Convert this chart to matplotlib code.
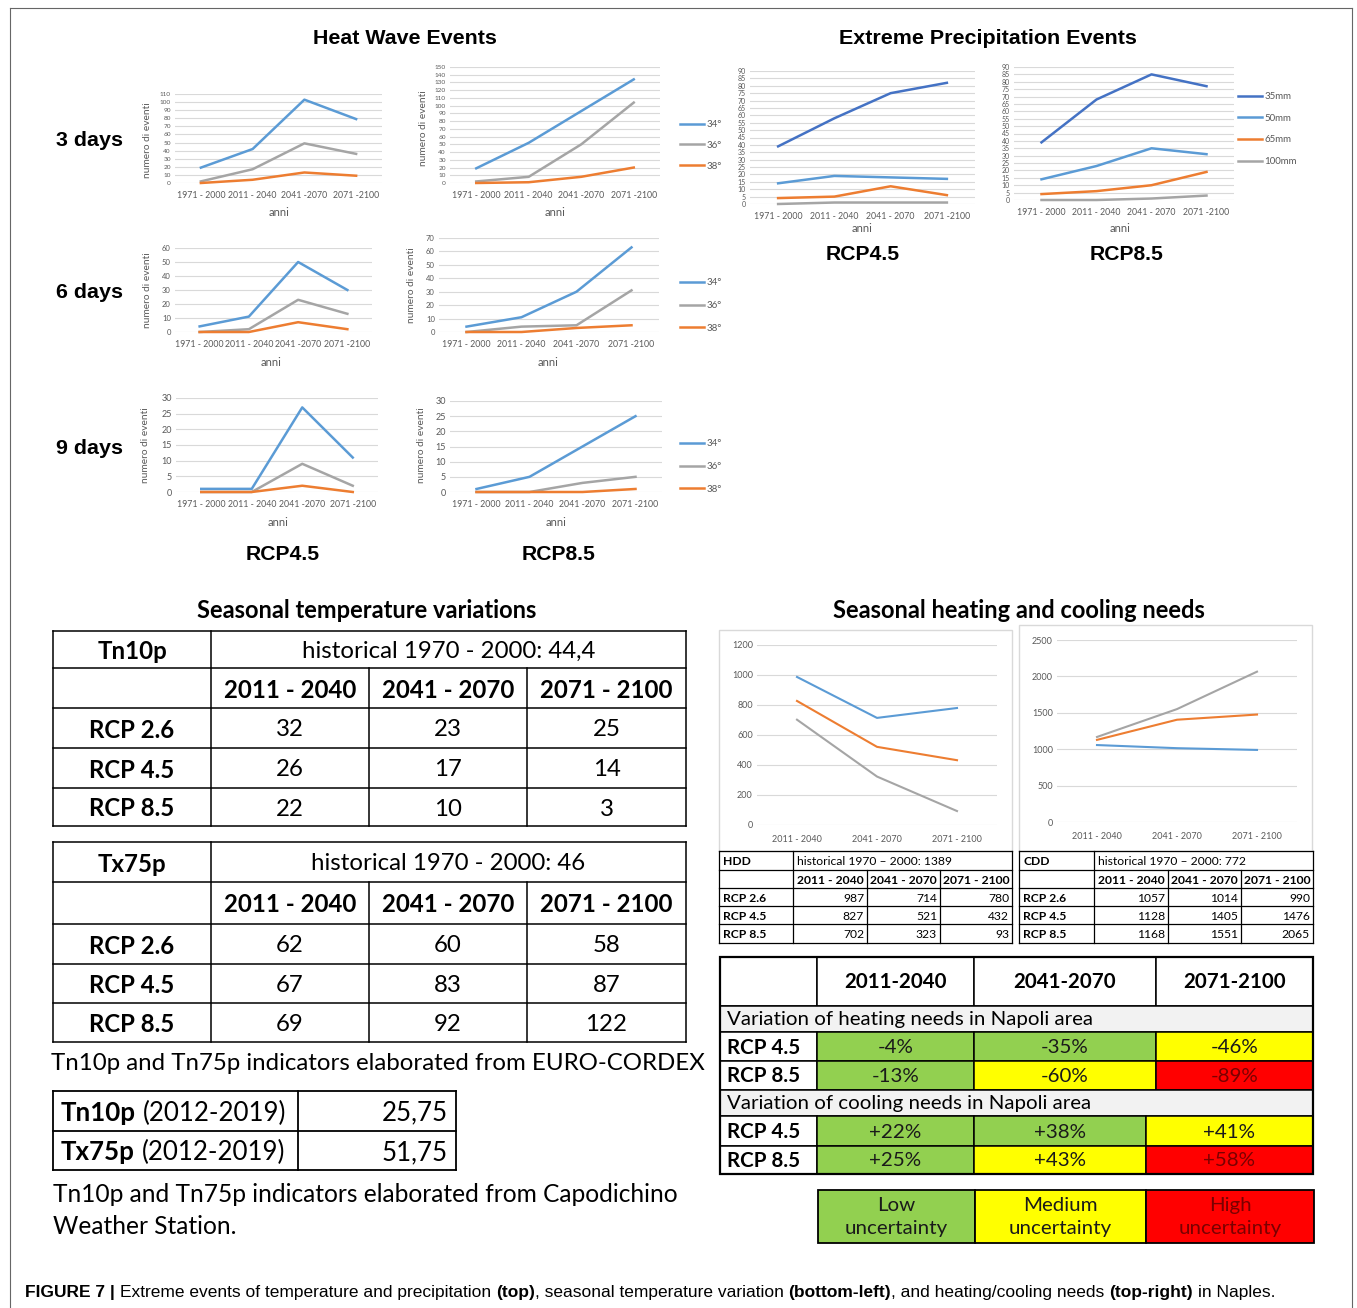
import numpy as np
import matplotlib
matplotlib.use('Agg')
import matplotlib.pyplot as plt
from matplotlib.patches import Rectangle

# ---------------- data ----------------
hw_periods = ['1971 - 2000', '2011 - 2040', '2041 -2070', '2071 -2100']
hw_labels = ['34°', '36°', '38°']
hw3_rcp45 = [[19, 42, 103, 79], [2, 17, 49, 36], [0, 4, 13, 9]]
hw3_rcp85 = [[19, 52, 93, 134], [2, 8, 50, 104], [0, 1, 8, 20]]
hw6_rcp45 = [[4, 11, 50, 30], [0, 2, 23, 13], [0, 0, 7, 2]]
hw6_rcp85 = [[4, 11, 30, 63], [0, 4, 5, 31], [0, 0, 3, 5]]
hw9_rcp45 = [[1, 1, 27, 11], [0, 0, 9, 2], [0, 0, 2, 0]]
hw9_rcp85 = [[1, 5, 15, 25], [0, 0, 3, 5], [0, 0, 0, 1]]

pr_periods = ['1971 - 2000', '2011 - 2040', '2041 - 2070', '2071 -2100']
pr_labels = ['35mm', '50mm', '65mm', '100mm']
pr_rcp45 = [[39, 58, 75, 82], [14, 19, 18, 17], [4, 5, 12, 6], [0, 1, 1, 1]]
pr_rcp85 = [[39, 68, 85, 77], [14, 23, 35, 31], [4, 6, 10, 19], [0, 0, 1, 3]]

hc_periods = ['2011 - 2040', '2041 - 2070', '2071 - 2100']
rcp_names = ['RCP 2.6', 'RCP 4.5', 'RCP 8.5']
hdd = [[987, 714, 780], [827, 521, 432], [702, 323, 93]]
cdd = [[1057, 1014, 990], [1128, 1405, 1476], [1168, 1551, 2065]]
hdd_hist = '1389'
cdd_hist = '772'

tn10p_hist = '44,4'
tn10p = [[32, 23, 25], [26, 17, 14], [22, 10, 3]]
tx75p_hist = '46'
tx75p = [[62, 60, 58], [67, 83, 87], [69, 92, 122]]
station_labels = ['Tn10p', 'Tx75p']
station_vals = ['25,75', '51,75']

unc_periods = ['2011-2040', '2041-2070', '2071-2100']
unc_rcps = ['RCP 4.5', 'RCP 8.5']
heat_var = [['-4%', '-35%', '-46%'], ['-13%', '-60%', '-89%']]
heat_unc = [['low', 'low', 'medium'], ['low', 'medium', 'high']]
cool_var = [['+22%', '+38%', '+41%'], ['+25%', '+43%', '+58%']]
cool_unc = [['low', 'low', 'medium'], ['low', 'medium', 'high']]
unc_levels = ['low', 'medium', 'high']
unc_legend = ['Low\nuncertainty', 'Medium\nuncertainty', 'High\nuncertainty']

# ---------------- style ----------------
BLUE, GRAY, ORANGE, DBLUE = '#5B9BD5', '#A5A5A5', '#ED7D31', '#4472C4'
TXT = '#595959'
GRID = '#D9D9D9'
CF = 'Lato'
AR = 'Liberation Sans'
UNC_FILL = {'low': '#92D050', 'medium': '#FFFF00', 'high': '#FF0000'}
UNC_TXT = {'low': '#1a1a1a', 'medium': '#1a1a1a', 'high': '#7a0000'}

W, H = 1357, 1308
fig = plt.figure(figsize=(W / 100, H / 100), dpi=100)
bg = fig.add_axes([0, 0, 1, 1])
bg.set_xlim(0, W)
bg.set_ylim(H, 0)
bg.axis('off')
renderer = fig.canvas.get_renderer()


def fit_fs(s, target, **kw):
    t = bg.text(0, 0, s, fontsize=10, **kw)
    w = t.get_window_extent(renderer).width
    t.remove()
    return 10 * target / w


def txt(x, y, s, fs, ha='center', va='center', **kw):
    return bg.text(x, y, s, fontsize=fs, ha=ha, va=va, **kw)


def seq(x, y, parts, fs, family, color='black'):
    t1 = bg.text(0, 0, 'a a', fontsize=fs, family=family)
    t2 = bg.text(0, 0, 'aa', fontsize=fs, family=family)
    sp = t1.get_window_extent(renderer).width - t2.get_window_extent(renderer).width
    t1.remove(); t2.remove()
    cur = x
    texts = []
    for s, bold in parts:
        lead = len(s) - len(s.lstrip(' '))
        trail = len(s) - len(s.rstrip(' '))
        cur += lead * sp
        t = bg.text(cur, y, s.strip(' '), fontsize=fs, family=family, color=color,
                    fontweight='bold' if bold else 'normal', ha='left', va='center')
        cur += t.get_window_extent(renderer).width + trail * sp
        texts.append(t)
    return cur - x, texts


def line_chart(box, cats, series, colors, ymax, step, labels, lw=1.8, xfs=6.3, yfs=5.0, xpad=6):
    x0, y0, x1, y1 = box
    ax = fig.add_axes([x0 / W, 1 - y1 / H, (x1 - x0) / W, (y1 - y0) / H])
    ax.set_facecolor('none')
    xs = np.arange(len(cats))
    for vals, c, lab in zip(series, colors, labels):
        ax.plot(xs, vals, color=c, lw=lw, label=lab, clip_on=False, solid_joinstyle='round')
    ax.set_xlim(-0.5, len(cats) - 0.5)
    ax.set_ylim(0, ymax)
    ax.set_yticks(np.arange(0, ymax + step / 2, step))
    ax.set_xticks(xs, cats)
    ax.grid(axis='y', color=GRID, lw=0.8)
    ax.set_axisbelow(True)
    for s in ax.spines.values():
        s.set_visible(False)
    ax.tick_params(length=0, colors=TXT, labelsize=yfs, pad=3)
    ax.tick_params(axis='x', labelsize=xfs, pad=xpad)
    for t in ax.get_xticklabels() + ax.get_yticklabels():
        t.set_fontfamily(CF)
    return ax


def side_legend(ax, x, y, fs=7.0, spacing=1.1):
    leg = ax.legend(loc='upper left', bbox_to_anchor=(x, y), bbox_transform=bg.transData,
                    frameon=False, fontsize=fs, handlelength=2.5, handletextpad=0.2,
                    labelspacing=spacing, borderpad=0, borderaxespad=0)
    for t in leg.get_texts():
        t.set_color(TXT)
        t.set_fontfamily(CF)


# ---------------- outer frame ----------------
bg.plot([10, 10], [8, 1308], color='#666666', lw=0.8)
bg.plot([10, 1352], [8, 8], color='#666666', lw=0.8)
bg.plot([1352, 1352], [8, 1308], color='#666666', lw=0.8)

# ---------------- heat wave ----------------
fs = fit_fs('Heat Wave Events', 183, family=AR, fontweight='bold')
txt(405, 38, 'Heat Wave Events', fs, family=AR, fontweight='bold')
fs = fit_fs('Extreme Precipitation Events', 297, family=AR, fontweight='bold')
txt(988, 38, 'Extreme Precipitation Events', fs, family=AR, fontweight='bold')

fsd = fit_fs('3 days', 67, family=AR, fontweight='bold')
for lab, y in zip(['3 days', '6 days', '9 days'], [141, 293, 449]):
    txt(90, y, lab, fsd, family=AR, fontweight='bold')
fsr = fit_fs('RCP4.5', 74, family=AR, fontweight='bold')
for lab, x, y in [('RCP4.5', 283, 554), ('RCP8.5', 559, 554), ('RCP4.5', 863, 254), ('RCP8.5', 1127, 254)]:
    txt(x, y, lab, fsr, family=AR, fontweight='bold')

hwc = [BLUE, GRAY, ORANGE]
line_chart((175, 94, 382, 183), hw_periods, hw3_rcp45, hwc, 110, 10, hw_labels, yfs=4.6)
a = line_chart((450, 67, 660, 183), hw_periods, hw3_rcp85, hwc, 150, 10, hw_labels, yfs=4.6)
side_legend(a, 680, 120, spacing=1.22)
line_chart((175, 248, 372, 332), hw_periods, hw6_rcp45, hwc, 60, 10, hw_labels, yfs=5.5)
a = line_chart((439, 238, 659, 332), hw_periods, hw6_rcp85, hwc, 70, 10, hw_labels, yfs=5.5)
side_legend(a, 680, 278, spacing=1.43)
line_chart((176, 398, 378, 492), hw_periods, hw9_rcp45, hwc, 30, 5, hw_labels, yfs=6.5)
a = line_chart((450, 401, 662, 492), hw_periods, hw9_rcp85, hwc, 30, 5, hw_labels, yfs=6.5)
side_legend(a, 680, 439, spacing=1.43)

for x, y in [(148, 140), (423, 128), (147, 290), (412, 285), (146, 445), (421, 445)]:
    txt(x, y, 'numero di eventi', 7.3, rotation=90, family=CF, color=TXT)
for x, y in [(279, 213), (555, 213), (271, 362), (548, 362), (278, 522), (556, 522),
             (862, 229), (1120, 229)]:
    txt(x, y, 'anni', 8, family=CF, color=TXT)

prc = [DBLUE, BLUE, ORANGE, GRAY]
line_chart((750, 71, 975, 204), pr_periods, pr_rcp45, prc, 90, 5, pr_labels, yfs=5.0)
a = line_chart((1014, 67, 1234, 200), pr_periods, pr_rcp85, prc, 90, 5, pr_labels, yfs=5.0)
side_legend(a, 1238, 92, spacing=1.31)

# ---------------- seasonal temperature tables ----------------
fs = fit_fs('Seasonal temperature variations', 339, family=CF, fontweight='bold')
txt(367, 610, 'Seasonal temperature variations', fs, family=CF, fontweight='bold')
fs = fit_fs('Seasonal heating and cooling needs', 372, family=CF, fontweight='bold')
txt(1019, 610, 'Seasonal heating and cooling needs', fs, family=CF, fontweight='bold')

fsL = fit_fs('historical 1970 - 2000: 44,4', 293, family=CF)
DY = 2


def big_table(ys, name, hist, vals):
    xs = [53, 211, 369, 527, 686]
    lw = 1.1
    for y in ys:
        bg.plot([xs[0], xs[-1]], [y, y], color='black', lw=lw)
    for x in [xs[0], xs[1], xs[-1]]:
        bg.plot([x, x], [ys[0], ys[-1]], color='black', lw=lw)
    for x in xs[2:4]:
        bg.plot([x, x], [ys[1], ys[-1]], color='black', lw=lw)
    cy = lambda i: (ys[i] + ys[i + 1]) / 2 + DY
    cx = lambda j: (xs[j] + xs[j + 1]) / 2
    txt(cx(0), cy(0), name, fsL, family=CF, fontweight='bold')
    txt((xs[1] + xs[-1]) / 2, cy(0), 'historical 1970 - 2000: ' + hist, fsL, family=CF)
    for j, p in enumerate(hc_periods):
        txt(cx(j + 1), cy(1), p, fsL, family=CF, fontweight='bold')
    for i, r in enumerate(rcp_names):
        txt(cx(0), cy(i + 2), r, fsL, family=CF, fontweight='bold')
        for j in range(3):
            txt(cx(j + 1), cy(i + 2), str(vals[i][j]), fsL, family=CF)


big_table([631, 668, 708, 748, 788, 826], 'Tn10p', tn10p_hist, tn10p)
big_table([842, 882, 924, 964, 1003, 1042], 'Tx75p', tx75p_hist, tx75p)

fsc = fit_fs('Tn10p and Tn75p indicators elaborated from EURO-CORDEX', 652, family=CF)
txt(51, 1063, 'Tn10p and Tn75p indicators elaborated from EURO-CORDEX', fsc, ha='left', family=CF)

# station table
sx = [53, 298, 456]
sy = [1091, 1131, 1170]
for y in sy:
    bg.plot([sx[0], sx[-1]], [y, y], color='black', lw=1.3)
for x in sx:
    bg.plot([x, x], [sy[0], sy[-1]], color='black', lw=1.3)
for i, (lab, v) in enumerate(zip(station_labels, station_vals)):
    y = (sy[i] + sy[i + 1]) / 2 + DY
    seq(61, y, [(lab, True), (' (2012-2019)', False)], fsL * 1.08, CF)
    txt(448, y, v, fsL * 1.08, ha='right', family=CF)

fsc2 = fit_fs('Tn10p and Tn75p indicators elaborated from Capodichino', 627, family=CF)
txt(53, 1194, 'Tn10p and Tn75p indicators elaborated from Capodichino', fsc2, ha='left', family=CF)
txt(53, 1226, 'Weather Station.', fsc2, ha='left', family=CF)

# ---------------- heating / cooling charts ----------------
bg.add_patch(Rectangle((719, 630), 293, 221, fill=False, ec=GRID, lw=1))
bg.add_patch(Rectangle((1019, 625), 293, 226, fill=False, ec=GRID, lw=1))
hcc = [BLUE, ORANGE, GRAY]
line_chart((757, 645, 997, 825), hc_periods, hdd, hcc, 1200, 200, rcp_names, lw=1.5,
           xfs=6.5, yfs=6.5, xpad=7)
line_chart((1057, 640, 1297, 822), hc_periods, cdd, hcc, 2500, 500, rcp_names, lw=1.5,
           xfs=6.5, yfs=6.5, xpad=7)

fsS = fit_fs('historical 1970 – 2000: 1389', 155, family=CF)


def small_table(xs, name, hist, vals):
    ys = [851, 870, 888, 906, 924, 943]
    lw = 0.9
    for y in ys:
        bg.plot([xs[0], xs[-1]], [y, y], color='black', lw=lw)
    for x in [xs[0], xs[1], xs[-1]]:
        bg.plot([x, x], [ys[0], ys[-1]], color='black', lw=lw)
    for x in xs[2:4]:
        bg.plot([x, x], [ys[1], ys[-1]], color='black', lw=lw)
    cy = lambda i: (ys[i] + ys[i + 1]) / 2 + 1
    txt(xs[0] + 4, cy(0), name, fsS, ha='left', family=CF, fontweight='bold')
    txt(xs[1] + 4, cy(0), 'historical 1970 – 2000: ' + hist, fsS, ha='left', family=CF)
    for j, p in enumerate(hc_periods):
        txt((xs[j + 1] + xs[j + 2]) / 2, cy(1), p, fsS, family=CF, fontweight='bold')
    for i, r in enumerate(rcp_names):
        txt(xs[0] + 4, cy(i + 2), r, fsS, ha='left', family=CF, fontweight='bold')
        for j in range(3):
            txt(xs[j + 2] - 3, cy(i + 2), str(vals[i][j]), fsS, ha='right', family=CF)


small_table([719, 793, 867, 940, 1012], 'HDD', hdd_hist, hdd)
small_table([1019, 1094, 1168, 1241, 1313], 'CDD', cdd_hist, cdd)

# ---------------- uncertainty table ----------------
fsU = fit_fs('Variation of heating needs in Napoli area', 366, family=CF)
ux = [720, 817, 974, 1156, 1313]
uy = [957, 1006, 1032, 1061, 1090, 1116, 1146, 1174]


def cell(x0, x1, y0, y1, fill, s, color='#1a1a1a', bold=False, ha='center'):
    bg.add_patch(Rectangle((x0, y0), x1 - x0, y1 - y0, fc=fill, ec='black', lw=1.1))
    if s:
        tx = (x0 + x1) / 2 if ha == 'center' else x0 + 7
        txt(tx, (y0 + y1) / 2 + 1, s, fsU, ha=ha, family=CF, color=color,
            fontweight='bold' if bold else 'normal')


cell(ux[0], ux[1], uy[0], uy[1], 'white', '')
for j, p in enumerate(unc_periods):
    cell(ux[j + 1], ux[j + 2], uy[0], uy[1], 'white', p, color='black', bold=True)

sections = [('Variation of heating needs in Napoli area', heat_var, heat_unc, ux),
            ('Variation of cooling needs in Napoli area', cool_var, cool_unc, [720, 817, 974, 1146, 1313])]
row = 1
for title, vals, unc, xs in sections:
    cell(ux[0], ux[-1], uy[row], uy[row + 1], '#F2F2F2', title, color='black', ha='left')
    row += 1
    for i, r in enumerate(unc_rcps):
        cell(xs[0], xs[1], uy[row], uy[row + 1], 'white', r, color='black', bold=True, ha='left')
        for j in range(3):
            lvl = unc[i][j]
            cell(xs[j + 1], xs[j + 2], uy[row], uy[row + 1], UNC_FILL[lvl], vals[i][j],
                 color=UNC_TXT[lvl])
        row += 1
bg.add_patch(Rectangle((ux[0], uy[0]), ux[-1] - ux[0], uy[-1] - uy[0], fill=False, ec='black', lw=1.6))

lx = [818, 975, 1146, 1314]
for j, (lvl, lab) in enumerate(zip(unc_levels, unc_legend)):
    bg.add_patch(Rectangle((lx[j], 1190), lx[j + 1] - lx[j], 53, fc=UNC_FILL[lvl], ec='black', lw=1.3))
    txt((lx[j] + lx[j + 1]) / 2, 1217, lab, fsU, family=CF, color=UNC_TXT[lvl], linespacing=1.38)

# ---------------- caption ----------------
cap_parts = [('FIGURE 7 | ', True),
             ('Extreme events of temperature and precipitation ', False),
             ('(top)', True),
             (', seasonal temperature variation ', False),
             ('(bottom-left)', True),
             (', and heating/cooling needs ', False),
             ('(top-right)', True),
             (' in Naples.', False)]
CAPF = ['Liberation Sans Narrow', 'Liberation Sans']
w, texts = seq(25, 1292, cap_parts, 10, CAPF)
for t in texts:
    t.remove()
seq(25, 1292, cap_parts, 10 * 1253 / w, CAPF)

fig.savefig('out.png', dpi=100)
